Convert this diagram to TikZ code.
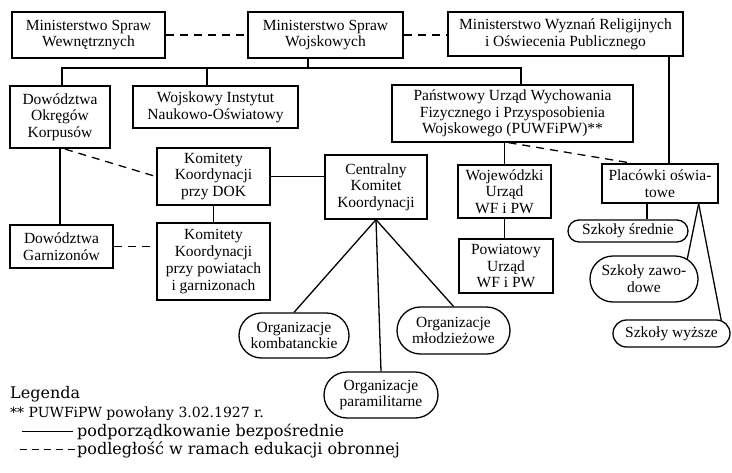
\documentclass[tikz,border=0pt]{standalone}
\usepackage{fontspec}
\setmainfont{Liberation Serif}
\newfontfamily\legserif{DejaVu Serif}
\usetikzlibrary{shapes.misc}
\newcommand{\boxfont}{\fontsize{15.5}{16.7}\selectfont}
\newcommand{\legfont}{\legserif\fontsize{16}{18}\selectfont}

\begin{document}
\begin{tikzpicture}[x=1pt, y=-1pt,
    rect/.style={draw, rectangle, line width=2.2pt, align=center, inner sep=0pt, font=\boxfont},
    thinrect/.style={rect, line width=1.3pt},
    pill/.style={draw, rounded rectangle, line width=1.3pt, align=center, inner sep=0pt, font=\boxfont},
    link/.style={line width=1.3pt},
    dashlink/.style={link, dash pattern=on 8pt off 6pt},
    legtext/.style={anchor=base west, inner sep=0pt, font=\legfont}]
    \useasboundingbox (0,0) rectangle (732,472);

    % Ministries
    \node[rect, minimum width=153, minimum height=46] (msw) at (88.5,35) {Ministerstwo Spraw\\Wewnętrznych};
    \node[rect, minimum width=155, minimum height=46] (mswo) at (325.5,35) {Ministerstwo Spraw\\Wojskowych};
    \node[rect, minimum width=235, minimum height=44] (mwr) at (565.5,34) {Ministerstwo Wyznań Religijnych\\i Oświecenia Publicznego};

    % Second row
    \node[rect, minimum width=100, minimum height=62] (dok) at (60,117) {Dowództwa\\Okręgów\\Korpusów};
    \node[rect, minimum width=165, minimum height=42] (win) at (215.5,107) {Wojskowy Instytut\\Naukowo-Oświatowy};
    \node[thinrect, minimum width=241, minimum height=57] (puw) at (512.5,113.5) {Państwowy Urząd Wychowania\\Fizycznego i Przysposobienia\\Wojskowego (PUWFiPW)**};

    % Committees
    \node[rect, minimum width=113, minimum height=57] (kkdok) at (213.5,176.5) {Komitety\\Koordynacji\\przy DOK};
    \node[rect, minimum width=103, minimum height=43] (dg) at (61.5,246.5) {Dowództwa\\Garnizonów};
    \node[rect, minimum width=113, minimum height=77] (kkpow) at (213.5,261.5) {Komitety\\Koordynacji\\przy powiatach\\i garnizonach};
    \node[thinrect, minimum width=102, minimum height=64] (ckk) at (376,187) {Centralny\\Komitet\\Koordynacji};

    % Offices and schools
    \node[thinrect, minimum width=93, minimum height=53] (wu) at (504.5,191.5) {Wojewódzki\\Urząd\\WF i PW};
    \node[thinrect, minimum width=94, minimum height=54] (pu) at (506,266) {Powiatowy\\Urząd\\WF i PW};
    \node[thinrect, minimum width=116, minimum height=39] (plac) at (660,183.5) {Placówki oświa-\\towe};
    \node[pill, minimum width=120, minimum height=22] (sred) at (628,231) {Szkoły średnie};
    \node[pill, minimum width=108, minimum height=46] (zaw) at (644,279) {Szkoły zawo-\\dowe};
    \node[pill, minimum width=117, minimum height=27] (wyz) at (671.5,333.5) {Szkoły wyższe};

    % Organisations
    \node[pill, minimum width=110, minimum height=45] (okomb) at (294,335.5) {Organizacje\\kombatanckie};
    \node[pill, minimum width=114, minimum height=46] (oparam) at (381,395) {Organizacje\\paramilitarne};
    \node[pill, minimum width=113, minimum height=47] (omlodz) at (453.5,330.5) {Organizacje\\młodzieżowe};

    % Bus below the Ministry of Military Affairs
    \coordinate (mswo-bot) at ([xshift=-17.5pt]mswo.south);
    \coordinate (dok-top) at ([xshift=2pt]dok.north);
    \coordinate (win-top) at ([xshift=-8.5pt]win.north);
    \coordinate (puw-top) at ([xshift=8.5pt]puw.north);
    \coordinate (bus) at (0,68);
    \draw[link] (mswo-bot) -- (mswo-bot |- bus);
    \draw[link] (dok-top) |- (puw-top |- bus) -- (puw-top);
    \draw[link] (win-top) -- (win-top |- bus);

    % Solid links
    \coordinate (mwr-bot) at ([xshift=-15pt]mwr.south east);
    \coordinate (plac-bot) at ([xshift=-13pt]plac.south);
    \coordinate (plac-fork) at ([xshift=-20pt]plac.south east);
    \draw[link] (mwr-bot) -- (mwr-bot |- plac.north);
    \draw[link] (dok.south) -- (dok.south |- dg.north);
    \draw[link] (kkdok.south) -- (kkpow.north);
    \draw[link] (kkdok.east) -- (kkdok.east -| ckk.west);
    \draw[link] (wu.north |- puw.south) -- (wu.north);
    \draw[link] (wu.south) -- (wu.south |- pu.north);
    \draw[link] (plac-bot) -- (plac-bot |- sred.north);
    \draw[link] (plac-fork) -- (zaw.25);
    \draw[link] (plac-fork) -- (wyz.15);
    \draw[link] (ckk.south) -- (okomb.north);
    \draw[link] (ckk.south) -- (oparam.north);
    \draw[link] (ckk.south) -- (omlodz.north);

    % Dashed links
    \draw[dashlink] (msw.east) -- (mswo.west);
    \draw[dashlink] (mswo.east) -- (mswo.east -| mwr.west);
    \draw[dashlink] ([xshift=5pt]dok.south) -- (kkdok.west);
    \draw[dashlink] (dg.east) -- (dg.east -| kkpow.west);
    \draw[dashlink] ([xshift=-4pt]puw.south) -- ([xshift=-27pt]plac.north);

    % Legend
    \node[legtext] (leg-title) at (10,398) {Legenda};
    \node[legtext, font=\legserif\fontsize{14}{18}\selectfont] (leg-note) at (10,417) {** PUWFiPW powołany 3.02.1927 r.};
    \node[legtext] (leg-solid) at (77,436) {podporządkowanie bezpośrednie};
    \node[legtext] (leg-dash) at (77,454) {podległość w ramach edukacji obronnej};
    \draw[line width=1pt] ([xshift=-4pt]leg-solid.west) -- ++(-51,0);
    \draw[line width=1pt, dash pattern=on 7pt off 5pt] ([xshift=-2pt]leg-dash.west) -- ++(-60,0);
\end{tikzpicture}
\end{document}
